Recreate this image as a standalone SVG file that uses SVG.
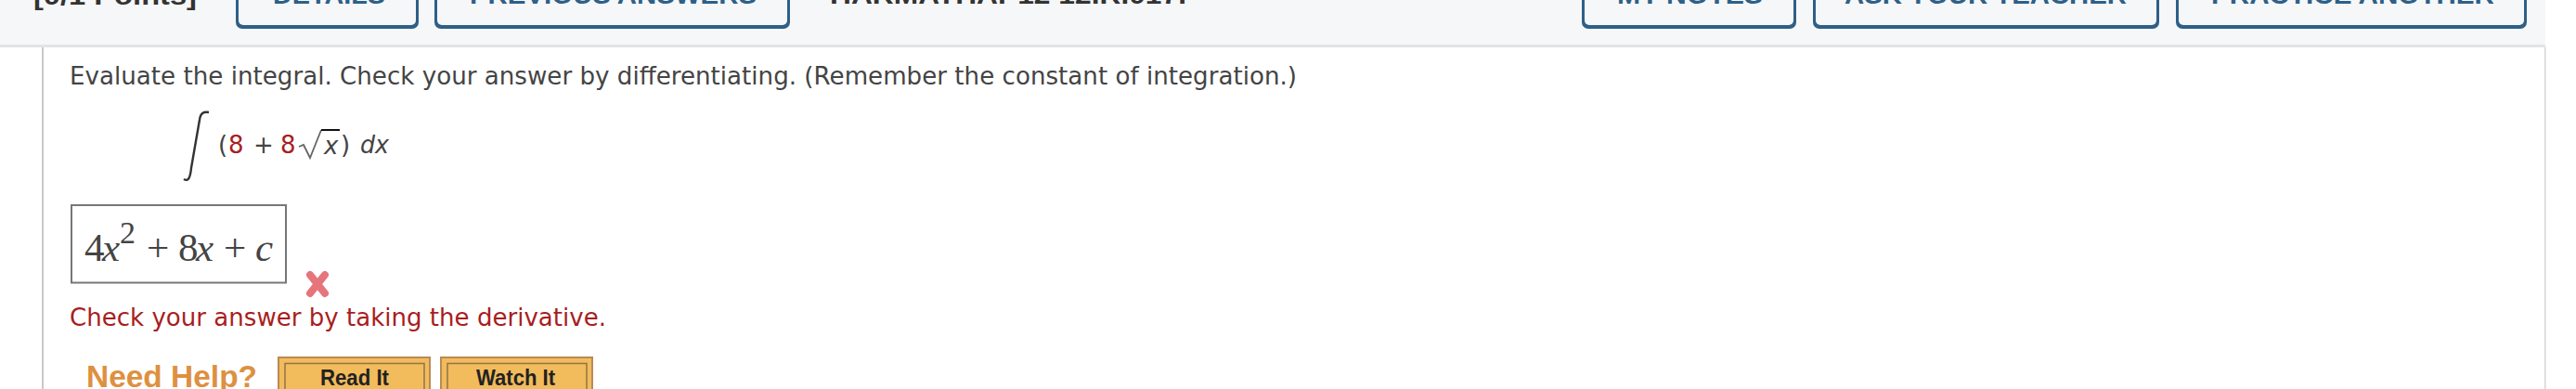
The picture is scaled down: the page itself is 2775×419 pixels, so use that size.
<svg xmlns="http://www.w3.org/2000/svg" width="2775" height="419" viewBox="0 0 2775 419">
<style>
.s{font-family:"DejaVu Sans",sans-serif;fill:#444;font-size:26px}
.o{fill:#2e6088}
.i{fill:#f6f7f8}
.bt{font-family:"Liberation Sans",sans-serif;font-weight:bold;font-size:27px;fill:#2e6088}
.m{font-family:"Liberation Serif",serif;fill:#444;font-size:43px}
.mi{font-style:italic}
.r{fill:#a81e1e}
.rb{fill:#f2bb5c;stroke:#b98a55;stroke-width:2}
.ri{fill:#f2bb5c;stroke:#8f7548;stroke-width:1.5}
.rt{font-family:"Liberation Sans",sans-serif;font-weight:bold;font-size:23px;fill:#222}
.top{font-family:"Liberation Sans",sans-serif;font-weight:bold;font-size:27px;fill:#333}
</style>
<rect width="2775" height="419" fill="#fff"/>
<rect x="-4" y="-4" width="2746" height="52" rx="3" fill="#f6f7f8"/>
<rect x="0" y="48" width="2742" height="3" fill="#e2e3e4"/>
<rect x="2741" y="51" width="1.5" height="368" fill="#d5d5d5"/>
<rect x="45" y="51" width="2" height="368" fill="#c8c8c8"/>
<text x="36" y="4.5" class="top" textLength="176" lengthAdjust="spacingAndGlyphs">[0/1 Points]</text>
<text x="894" y="3.5" class="top" textLength="384" lengthAdjust="spacingAndGlyphs">HARMATHAP12 12.R.017.</text>
<g id="btn-details"><rect x="254" y="-10" width="197" height="41" rx="7" class="o"/><rect x="257" y="-10" width="191" height="37" rx="5" class="i"/><text x="294" y="3.5" class="bt" textLength="121" lengthAdjust="spacingAndGlyphs">DETAILS</text></g>
<g id="btn-previous"><rect x="468" y="-10" width="383" height="41" rx="7" class="o"/><rect x="471" y="-10" width="377" height="37" rx="5" class="i"/><text x="506" y="3.5" class="bt" textLength="309" lengthAdjust="spacingAndGlyphs">PREVIOUS ANSWERS</text></g>
<g id="btn-notes"><rect x="1704" y="-10" width="231" height="41" rx="7" class="o"/><rect x="1707" y="-10" width="225" height="37" rx="5" class="i"/><text x="1742" y="3.5" class="bt" textLength="157" lengthAdjust="spacingAndGlyphs">MY NOTES</text></g>
<g id="btn-teacher"><rect x="1953" y="-10" width="373" height="41" rx="7" class="o"/><rect x="1956" y="-10" width="367" height="37" rx="5" class="i"/><text x="1987" y="3.5" class="bt" textLength="304" lengthAdjust="spacingAndGlyphs">ASK YOUR TEACHER</text></g>
<g id="btn-practice"><rect x="2344" y="-10" width="378" height="41" rx="7" class="o"/><rect x="2347" y="-10" width="372" height="37" rx="5" class="i"/><text x="2382" y="3.5" class="bt" textLength="305" lengthAdjust="spacingAndGlyphs">PRACTICE ANOTHER</text></g>
<text x="75" y="90.5" class="s" textLength="1322" lengthAdjust="spacingAndGlyphs">Evaluate the integral. Check your answer by differentiating. (Remember the constant of integration.)</text>
<path d="M198 193c5 3 7-2 8-12l9-52c1-7 4-9 10-8" fill="none" stroke="#333" stroke-width="2.4"/>
<text x="235" y="165" class="s">(</text>
<text x="246" y="165" class="s r">8</text>
<text x="273" y="165" class="s">+</text>
<text x="302" y="165" class="s r">8</text>
<path d="M322 158l5-2 7 14 12-30" fill="none" stroke="#666" stroke-width="1.8"/>
<path d="M346 140h20" stroke="#111" stroke-width="2"/>
<text x="349" y="166" class="s mi">x</text>
<text x="367" y="165" class="s">)</text>
<text x="388" y="165" class="s mi" textLength="31" lengthAdjust="spacingAndGlyphs">dx</text>
<rect x="77" y="221" width="231" height="83.5" fill="#fff" stroke="#777" stroke-width="2"/>
<text class="m" x="91" y="281">4</text>
<text class="m mi" x="110" y="281">x</text>
<text class="m" x="129" y="262" style="font-size:34px">2</text>
<text class="m" x="158" y="281">+</text>
<text class="m" x="192" y="281">8</text>
<text class="m mi" x="211" y="281">x</text>
<text class="m" x="241" y="281">+</text>
<text class="m mi" x="275" y="281">c</text>
<path d="M334 296l16 20M350 296l-16 20" stroke="#e5757b" stroke-width="8" stroke-linecap="round"/>
<text x="75" y="351" class="s" style="fill:#a81e1e" textLength="578" lengthAdjust="spacingAndGlyphs">Check your answer by taking the derivative.</text>
<text x="93" y="417" font-family="Liberation Sans" font-weight="bold" font-size="34" fill="#dd9140" textLength="184" lengthAdjust="spacingAndGlyphs">Need Help?</text>
<rect x="300" y="385" width="163" height="40" class="rb"/>
<rect x="307" y="391.5" width="150" height="40" class="ri"/>
<text x="345" y="415" class="rt" textLength="74" lengthAdjust="spacingAndGlyphs">Read It</text>
<rect x="475" y="385" width="163" height="40" class="rb"/>
<rect x="482" y="391.5" width="150" height="40" class="ri"/>
<text x="513" y="415" class="rt" textLength="85" lengthAdjust="spacingAndGlyphs">Watch It</text>
</svg>
